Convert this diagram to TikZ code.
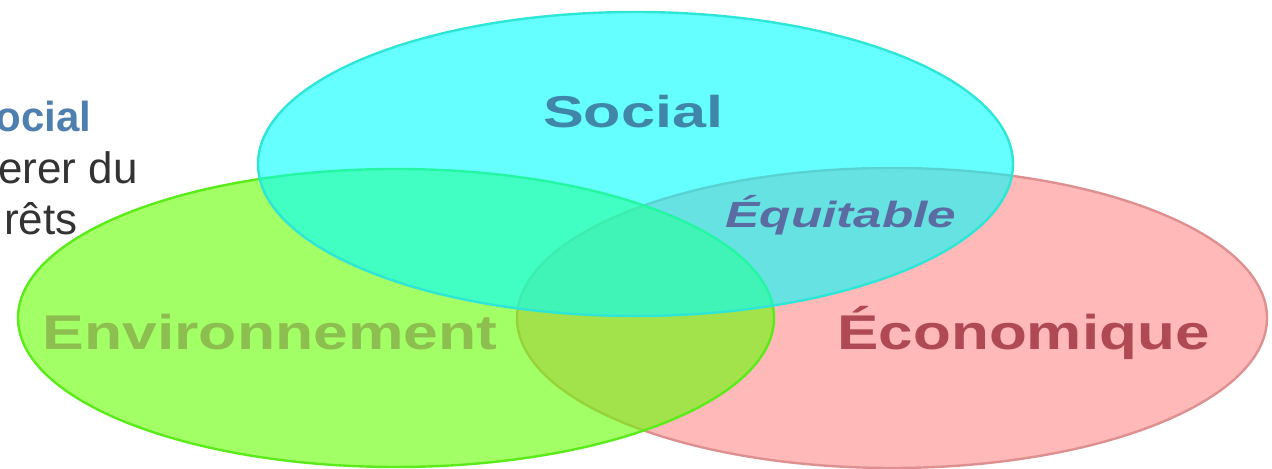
\documentclass[tikz,border=0pt]{standalone}
\usepackage{fontspec}
\setmainfont{Liberation Sans}
\usetikzlibrary{positioning}

\definecolor{socialfill}{HTML}{00FFFF}
\definecolor{socialline}{HTML}{2EE6D6}
\definecolor{envfill}{HTML}{66FF00}
\definecolor{envline}{HTML}{5CEB1A}
\definecolor{ecofill}{HTML}{FF8080}
\definecolor{ecoline}{HTML}{DE9090}
\definecolor{socialtext}{HTML}{3F86A8}
\definecolor{equitext}{HTML}{5A6CA2}
\definecolor{envtext}{HTML}{8CBE50}
\definecolor{ecotext}{HTML}{B04A52}
\definecolor{sidetext}{HTML}{333333}
\definecolor{sidetitle}{HTML}{4F7FAF}

\begin{document}
\begin{tikzpicture}[x=0.5pt, y=0.5pt,
    titre/.style={inner sep=0pt, anchor=base},
    cote/.style={inner sep=0pt, anchor=base east, text=sidetext,
                 font=\fontsize{22}{26}\selectfont}]
                \useasboundingbox (0, 0) rectangle (1272, 469);

                % les trois cercles
                \filldraw [fill=ecofill, fill opacity=0.55, draw=ecoline, line width=1.2pt]
                    (892, 151) ellipse [x radius=375, y radius=150];
                \filldraw [fill=envfill, fill opacity=0.6, draw=envline, line width=1.2pt]
                    (396, 151) ellipse [x radius=378, y radius=149];
                \filldraw [fill=socialfill, fill opacity=0.6, draw=socialline, line width=1.2pt]
                    (635.5, 305) ellipse [x radius=377.5, y radius=152];

                \node [titre, text=socialtext] (social) at (633, 341)
                    {\fontsize{22.3}{26}\selectfont\bfseries\scalebox{1.37}[1]{Social}};
                \node [titre, text=equitext] (equitable) at (841, 241)
                    {\fontsize{18.2}{22}\selectfont\bfseries\itshape\scalebox{1.41}[1]{Équitable}};
                \node [titre, text=envtext] (environnement) at (270, 119)
                    {\fontsize{24.4}{28}\selectfont\bfseries\scalebox{1.28}[1]{Environnement}};
                \node [titre, text=ecotext] (economique) at (1023.5, 119)
                    {\fontsize{24.4}{28}\selectfont\bfseries\scalebox{1.27}[1]{Économique}};

                % texte coupé à gauche
                \node [cote, text=sidetitle, font=\fontsize{21}{24}\selectfont\bfseries] (ocial) at (92, 337) {ocial};
                \node [cote] (ererdu) at (138, 285) {erer du};
                \node [cote] (rets) at (78, 234) {rêts};
            \end{tikzpicture}
\end{document}
